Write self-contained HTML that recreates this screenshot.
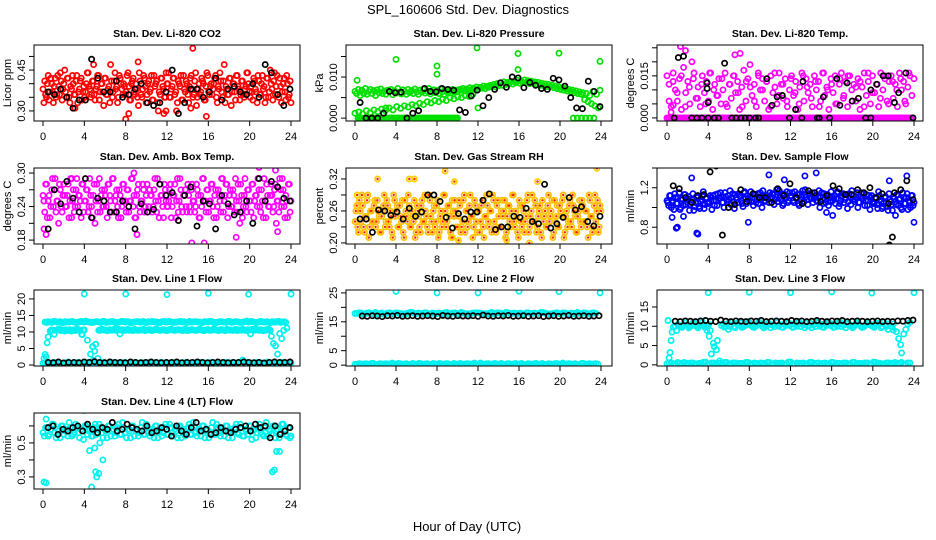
<!DOCTYPE html>
<html><head><meta charset="utf-8"><title>SPL_160606 Std. Dev. Diagnostics</title>
<style>html,body{margin:0;padding:0;background:#fff;}svg{display:block;font-family:"Liberation Sans",Arial,sans-serif;}</style>
</head><body>
<svg id="chart" width="936" height="540" viewBox="0 0 936 540" xmlns="http://www.w3.org/2000/svg">
<rect x="0" y="0" width="936" height="540" fill="#fff"/>
<text x="468" y="14" text-anchor="middle" font-size="13">SPL_160606  Std. Dev. Diagnostics</text>
<text x="467" y="531" text-anchor="middle" font-size="13">Hour of Day (UTC)</text>
<g id="plots"></g>
</svg>
<script>
const hourTicks=[0,4,8,12,16,20,24];
// CO2
const co2Ticks=[0.30,0.35,0.40,0.45,0.50];
const co2Labels=['0.30','','','0.45',''];
const co2Red=[.38,.41,.35,.43,.37,.40,.33,.42,.36,.39,.44,.34,.40,.37,.42,.35,.39,.43,.36,.41,.33,.38,.42,.37,.35,.40,.44,.38,.36,.41,.34,.39,.43,.37,.40,.32,.42,.36,.39,.47,.35,.41,.38,.33,.43,.40,.36,.39,.37,.44,.34,.40,.42,.36,.38,.32,.41,.35,.43,.39,.36,.41,.38,.34,.43,.40,.33,.37,.42,.39,.35,.44,.40,.35,.38,.42,.36,.30,.41,.39,.34,.43,.37,.40,.33,.42,.38,.36,.44,.35,.40,.37,.41,.34,.39,.43,.36,.40,.38,.42,.35,.39,.44,.37,.41,.33,.38,.36,.42,.37,.40,.34,.43,.38,.36,.41,.35,.39,.44,.37,.39,.34,.41,.37,.43,.36,.40,.38,.33,.42,.35,.45,.38,.41,.36,.43,.35,.39,.37,.42,.34,.40,.36,.33];
const co2OutH=[8.0,8.3,14.5,15.8,11.7,3.1,9.2,14.3,4.9,11.9];
const co2OutV=[.27,.29,.53,.28,.29,.31,.48,.31,.47,.30];
const co2Black=[.37,.36,.38,.35,.31,.34,.34,.49,.42,.37,.37,.41,.35,.36,.38,.40,.33,.32,.33,.37,.45,.29,.33,.38,.38,.35,.37,.42,.34,.38,.39,.37,.36,.40,.35,.47,.44,.36,.32,.38];
// Pressure
const prTicks=[0,0.005,0.010,0.015];
const prLabels=['0.000','','0.010',''];
const prMain=[.0065,.006,.007,.0055,.0068,.006,.0072,.0058,.0065,.007,.006,.0067,.0055,.0069,.0062,.0071,.006,.0066,.0058,.0068,.0064,.007,.0057,.0066,.0061,.0072,.0063,.0059,.0069,.0065,.0058,.007,.0062,.0067,.006,.0071,.0064,.0058,.0068,.0063,.007,.0061,.0066,.0072,.0059,.0065,.0069,.0062,.0067,.006,.0071,.0064,.0058,.0069,.0063,.0066,.0061,.007,.0064,.0068,.0065,.007,.0068,.0072,.0066,.0071,.0069,.0074,.0068,.0073,.0071,.0076,.007,.0075,.0073,.0078,.0072,.0077,.0075,.008,.0078,.0082,.0076,.0084,.0079,.0086,.008,.0088,.0082,.0087,.0084,.009,.0083,.0089,.0086,.0092,.0085,.009,.0087,.0093,.0086,.0091,.0084,.009,.0085,.0088,.0082,.0087,.008,.0085,.0079,.0083,.0077,.0082,.0076,.008,.0074,.0078,.0072,.0076,.007,.0074,.0068,.0072,.0066,.007,.0064,.0068,.0062,.0066,.006,.0064,.0058,.0062,.0045,.006,.004,.0055,.0035,.0065,.003,.0058,.0025,.0068];
const prLow=[.0012,.0015,.001,.0018,.0013,.002,.0016,.0022,.0018,.0025,.002,.0028,.0024,.003,.0027,.0033,.003,.0036,.0033,.004,.0037,.0043,.004,.0046,.0043,.005,.0047,.0052,.005,.0055,.0053,.0058];
const prZero=[0,0,0,0,0,0,0,0,0,0,0,0,0,0,0,0,0,0,0,0,0,0,0,0,0,0,0,0,0,0,0,0,0,0,0,0];
const prZero2=[0,0,0,0,0,0];
const prOutH=[4.0,8.0,8.0,11.9,15.9,15.9,19.9,23.9,0.2,3.0,12.0,1.5];
const prOutV=[.0143,.0127,.0107,.0171,.0157,.0118,.0158,.0138,.0092,.0025,.0025,.0012];
const prBlack=[.0038,0,0,0,.0012,.0065,.0062,.0063,0,.0012,.0018,.0072,.0065,.0064,.0072,.007,.0068,.002,.0014,.0054,.0068,.003,.005,.007,.0086,.0075,.0100,.0098,.0074,.0087,.008,.0072,.007,.0097,.0093,.0078,.005,.0025,.0023,.009,.0065,.0028];
// Li-820 Temp
const tpTicks=[0,0.005,0.010,0.015,0.020,0.025];
const tpLabels=['0.000','','','0.015','',''];
const tpMag=[.015,.012,.004,.016,.010,.006,.014,.003,.018,.009,.013,.005,.020,.016,.007,.011,.004,.015,.009,.013,.006,.016,.003,.012,.008,.014,.005,.010,.016,.004,.012,.007,.015,.009,.013,.003,.011,.017,.006,.014,.019,.008,.012,.004,.016,.010,.014,.006,.013,.003,.015,.009,.011,.005,.016,.012,.007,.014,.004,.010,.015,.008,.013,.003,.011,.016,.006,.014,.009,.012,.004,.015,.010,.013,.006,.016,.008,.011,.003,.014,.009,.015,.005,.012,.016,.007,.013,.004,.015,.010,.012,.006,.014,.003,.011,.016,.008,.013,.005,.015,.009,.012,.004,.016,.010,.014,.006,.013,.015,.007,.012,.004,.016,.010,.013,.005,.011,.015,.008,.014];
const tpMag2=[.006,.013,.009,.015,.004,.011,.014,.007,.012,.005,.016,.010,.008,.014,.005,.012,.015,.009,.004,.013,.011,.006,.015,.010,.013,.004,.016,.008,.012,.006,.014,.009,.005,.015,.011,.007,.013,.004,.016,.010,.012,.005,.014,.008,.015,.006,.011,.013,.004,.016,.009,.012,.007,.015,.005,.013,.010,.014,.006,.016];
const tpZero=[0,0,0,0,0,0,0,0,0,0,0,0,0,0,0,0,0,0,0,0,0,0,0,0,0,0,0,0,0,0,0,0,0,0,0,0,0,0,0,0,0,0,0,0,0,0,0,0,0,0,0,0,0,0,0,0,0,0,0,0,0,0,0,0,0,0,0,0,0,0,0,0];
const tpOutH=[1.3,1.8,6.6,7.1,0.4,0.6];
const tpOutV=[.0255,.024,.0225,.023,.002,.0045];
const tpBlackH=[0.7,1.1,1.6,2.4,2.9,3.4,3.9,3.9,4.0,4.0,4.6,5.0,5.6,6.3,6.7,7.2,7.6,8.0,8.6,8.9,9.7,10.2,10.7,11.2,11.9,12.5,13.1,13.2,14.6,14.8,15.2,15.8,16.5,16.8,17.5,18.0,18.6,19.3,19.8,19.8,20.4,21.0,21.5,22.1,22.5,23.2,23.9];
const tpBlackV=[0,.0215,.022,0,0,0,.0105,.0125,.0055,0,0,0,.0195,0,0,0,0,0,0,0,.014,.0045,.0075,.0080,0,.0030,0,.0130,0,0,.0075,0,.0140,.0045,.0125,.0060,.0070,0,0,.0100,.0120,.0150,.0150,.0055,.0090,.0160,0];
// Amb Box Temp
const abTicks=[0.18,0.21,0.24,0.27,0.30];
const abLabels=['0.18','','0.24','','0.30'];
const abMag=[.26,.23,.28,.25,.22,.27,.24,.29,.25,.21,.27,.23,.28,.24,.26,.22,.29,.25,.23,.27,.24,.26,.22,.28,.25,.27,.23,.29,.24,.26,.21,.28,.25,.23,.27,.24,.26,.22,.28,.25,.29,.23,.26,.24,.27,.22,.28,.25,.23,.27,.25,.29,.24,.22,.26,.28,.23,.25,.27,.24,.28,.24,.26,.23,.27,.25,.29,.22,.26,.24,.28,.25,.24,.27,.22,.26,.28,.25,.23,.29,.24,.26,.27,.23,.26,.23,.28,.25,.24,.27,.22,.26,.29,.25,.23,.27,.25,.28,.24,.26,.22,.27,.25,.29,.23,.26,.28,.24,.27,.24,.26,.29,.23,.25,.28,.22,.26,.24,.27,.25,.23,.28,.25,.26,.29,.24,.27,.22,.25,.28,.24,.26,.26,.24,.28,.25,.23,.27,.29,.24,.26,.22,.28,.25];
const abOutH=[0.3,2.8,9.1,14.4,15.6,18.7,20.9,22.5,22.7,0.1,8.8];
const abOutV=[.19,.29,.19,.175,.175,.185,.31,.305,.195,.20,.30];
const abBlack=[.20,.27,.245,.285,.255,.23,.29,.22,.255,.25,.23,.23,.25,.24,.20,.245,.23,.235,.28,.26,.265,.215,.26,.275,.205,.25,.245,.20,.26,.245,.225,.23,.25,.21,.29,.25,.285,.275,.255,.25];
// Gas stream RH
const rhTicks=[0.20,0.23,0.26,0.29,0.32];
const rhLabels=['0.20','','0.26','','0.32'];
const rhMain=[.24,.27,.22,.26,.29,.23,.25,.28,.21,.26,.24,.27,.23,.28,.25,.22,.26,.29,.24,.27,.23,.25,.21,.28,.26,.23,.27,.24,.22,.28,.25,.29,.23,.26,.24,.21,.27,.25,.22,.28,.24,.26,.23,.29,.25,.22,.27,.24,.28,.22,.26,.24,.29,.23,.27,.25,.21,.26,.28,.23,.25,.27,.23,.28,.22,.26,.24,.29,.25,.23,.27,.22,.26,.24,.28,.21,.25,.27,.23,.26,.29,.24,.22,.28,.23,.26,.25,.28,.22,.27,.24,.26,.29,.23,.25,.21,.27,.23,.26,.24,.28,.22,.25,.29,.24,.27,.23,.26,.22,.28,.25,.23,.27,.24,.26,.21,.28,.25,.23,.27,.25,.29,.22,.26,.24,.28,.23,.27,.25,.22,.26,.24,.28,.24,.26,.23,.29,.25,.22,.27,.24,.28,.23,.26];
const rhOutH=[2.2,5.3,5.8,8.8,9.7,17.8,23.6,9.5,14.8,17.0,10.1,0.2];
const rhOutV=[.32,.32,.32,.335,.315,.315,.34,.21,.205,.20,.205,.29];
const rhBlack=[.245,.245,.22,.262,.26,.252,.258,.245,.265,.25,.258,.29,.29,.278,.248,.228,.255,.245,.258,.258,.28,.292,.225,.23,.23,.25,.248,.265,.24,.236,.31,.228,.236,.248,.285,.262,.268,.24,.232,.25];
// Sample flow
const sfTicks=[0.8,1.0,1.2,1.4];
const sfLabels=['0.8','','1.2',''];
const sfBlue=[1.07,1.02,1.12,1.05,0.98,1.10,1.04,1.15,1.00,1.08,1.13,1.03,1.09,0.97,1.06,1.14,1.01,1.11,1.05,0.99,1.08,1.16,1.03,1.10,1.04,1.12,0.98,1.07,1.13,1.02,1.09,1.15,1.05,1.00,1.11,1.06,1.08,1.03,1.14,0.99,1.10,1.05,1.12,1.07,1.01,1.16,1.04,1.09,1.11,1.06,1.02,1.13,1.08,1.04,1.15,1.00,1.10,1.07,1.12,1.05,1.09,1.14,1.03,1.11,1.06,1.17,1.08,1.02,1.13,1.10,1.05,1.15,1.12,1.07,1.16,1.09,1.04,1.14,1.11,1.06,1.18,1.08,1.13,1.10,1.15,1.09,1.12,1.06,1.17,1.11,1.08,1.14,1.05,1.13,1.10,1.16,1.07,1.12,1.09,1.15,1.04,1.11,1.14,1.08,1.13,1.06,1.10,1.17,1.12,1.08,1.15,1.05,1.11,1.09,1.14,1.07,1.02,1.12,1.10,1.06,1.04,1.09,0.99,1.12,1.06,1.01,1.10,1.05,0.97,1.08,1.03,1.11,1.06,1.13,1.02,1.09,0.98,1.10,1.04,1.14,1.07,1.00,1.12,1.05];
const sfOutH=[0.9,1.0,2.9,3.0,1.6,7.9,9.9,11.4,13.4,14.5,15.5,16.1,23.3,2.4,0.5,21.6,22.2,24.0];
const sfOutV=[.79,.80,.74,.73,.91,.85,1.33,1.28,1.32,1.35,.95,.92,1.32,1.30,.90,1.27,0.92,0.85];
const sfBlack=[1.22,1.19,1.10,1.05,1.12,1.13,1.36,1.42,0.72,1.00,1.03,1.18,1.06,1.14,1.10,1.10,1.05,1.19,1.12,1.24,1.10,1.04,1.17,1.15,1.06,1.12,1.22,1.19,1.13,1.13,1.18,1.15,1.20,1.10,1.14,1.04,1.15,1.18,1.27,1.08];
const sfBlackOutH=[21.6,21.9];
const sfBlackOutV=[0.62,0.70];
// Line 1 flow
const l1Ticks=[0,5,10,15,20];
const l1Labels=['0','5','10','15','20'];
const l1Upper=[13.0,13.1,12.9,13.2,13.0,12.8,13.1,13.0,13.2,12.9,13.0,13.1,13.3,13.0,12.9,13.1,13.0,13.2,12.9,13.0,13.1,12.8,13.0,13.2,13.1,12.9,13.0,13.1,13.0,13.2,12.9,13.0,13.1,13.0,12.9,13.2,13.0,13.1,12.9,13.0,13.2,13.1,12.9,13.0,13.1,13.0,12.8,13.1,13.0,13.2,12.9,13.0,13.1,13.0,13.2,12.9,13.1,13.0,12.9,13.1,13.0,13.2,12.9,13.0,13.1,13.0,12.9,13.1,13.0,13.2,13.0,12.9];
const l1MidA=[10.3,10.6,10.5,10.8,10.4,10.6,10.7,10.5,10.3,10.6,10.8,10.5,9.3,10.6];
const l1MidB=[10.5,10.8,10.6,10.4,10.7,10.5,10.9,10.6,9.4,10.7,10.5,10.8,10.6,10.4,10.7,10.5,10.6,10.8,10.5,10.7,10.4,10.6,10.9,10.5,10.7,10.6,10.4,10.8,10.6,10.5,10.7,10.6,10.4,10.8,10.5,10.7,10.6,10.5,10.8,10.6,10.4,10.7,10.5,10.6,10.8,10.5,10.7,10.6,10.4,10.7,10.6,10.5,10.8,10.6,10.5,10.7,10.4,10.6,10.8,10.5,10.7,10.6,10.4,10.6,10.8,10.5];
const l1Low=[0.5,0.7,0.4,0.8,0.5,0.6,0.9,0.4,0.7,0.5,0.6,0.8,1.5,0.5,0.7,0.4,0.8,0.6,0.5,0.7,0.4,0.6,0.8,0.5,0.7,0.4,0.6,0.5,0.8,0.6,0.4,0.7,0.5,0.6,0.8,0.4,0.7,0.5,0.6,0.5,0.8,0.4,0.6,0.7,0.5,0.8,0.4,0.6,0.5,0.7,0.4,0.8,0.6,0.5,0.7,0.4,0.6,0.8,0.5,0.6];
const l1Black=[0.8,0.7,0.9,0.6,0.8,0.8,0.7,0.9,0.8,1.0,0.8,0.7,0.9,0.8,0.8,0.7,0.9,0.8,0.7,0.8,0.9,0.8,0.7,0.8,0.8,0.9,0.7,0.8,0.8,0.9,0.8,0.7,0.8,0.9,0.8,0.7,0.8,0.8,0.9,0.8,0.7,0.8,0.6,0.8,0.9,0.8,0.8,0.9];
const l1TrH=[0.1,0.2,0.3,0.4,0.5,4.3,4.6,4.8,5.0,5.1,5.3,22.1,22.3,22.5,22.7,22.9,23.1,23.3,23.6,3.8];
const l1TrV=[2.0,3.2,2.5,6.7,8.5,7.5,3.3,5.6,4.2,6.3,2.0,8.7,6.5,5.8,3.3,9.5,8.0,10.5,11.2,9.2];
const l1OutH=[4.0,8.0,12.0,16.0,19.9,24.0];
const l1OutV=[21.5,21.5,21.3,21.7,21.4,21.5];
// Line 2 flow
const l2Ticks=[0,5,10,15,20,25];
const l2Labels=['0','5','','15','','25'];
const l2Upper=[17.9,18.1,17.7,18.0,17.8,18.2,17.9,17.6,18.0,17.8,18.1,17.9,17.7,18.0,18.2,17.8,17.9,18.1,17.7,18.0,17.8,17.9,18.1,17.6,18.0,17.9,18.2,17.8,17.7,18.0,18.1,17.9,17.8,18.0,17.7,18.1,17.9,18.2,17.8,18.0,17.9,17.7,18.1,17.8,18.0,17.9,18.2,17.8,17.7,18.0,17.9,18.1,17.8,18.0,17.7,17.9,18.1,17.8,18.0,17.9];
const l2Black=[17.0,16.9,17.1,17.0,16.8,17.1,17.0,17.2,16.9,17.0,17.1,16.9,17.0,17.1,17.0,16.8,17.2,17.0,16.9,17.1,17.0,17.0,17.1,16.9,17.3,17.0,16.9,17.1,17.0,17.2,16.9,17.0,17.1,16.9,17.0,17.1,16.8,17.0,17.1,16.9,17.0,17.2,16.9,17.0,17.1,16.9,17.0,17.1];
const l2Low=[0.3,0.5,0.2,0.4,0.6,0.3,0.5,0.2,0.4,0.7,0.3,0.5,0.4,0.2,0.6,0.3,0.5,0.4,0.2,0.6,0.3,0.4,0.5,0.2,0.6,0.3,0.4,0.5,0.3,0.7,0.2,0.4,0.5,0.3,0.6,0.4,0.2,0.5,0.3,0.6,0.4,0.2,0.5,0.3,0.6,0.4,0.3,0.5,0.2,0.6,0.4,0.3,0.5,0.4,0.2,0.6,0.3,0.5,0.4,0.3];
const l2OutH=[4.0,8.0,12.0,16.0,19.9,23.9];
const l2OutV=[25.5,25.0,25.0,25.6,25.4,25.0];
// Line 3 flow
const l3Ticks=[0,5,10,15];
const l3Labels=['0','5','10','15'];
const l3BandA=[10.0,10.5,9.8,10.3,11.0,9.6,10.2,10.8,9.9,10.4,11.2,9.7,10.1,8.9];
const l3BandB=[10.2,9.8,10.6,10.0,11.1,9.6,10.4,10.9,9.9,10.3,11.2,10.1,9.7,10.5,11.0,9.9,10.2,10.8,9.6,10.4,11.1,10.0,9.8,10.6,10.9,10.2,9.7,10.5,11.0,9.9,10.3,10.8,10.1,9.6,10.5,11.1,10.0,9.8,10.6,10.9,10.2,9.7,10.4,11.0,9.9,10.3,10.7,10.1,9.6,10.5,11.0,10.0,9.8,10.6,10.9,10.2,9.7,10.4,10.8,9.9,10.3,9.2,10.1,10.6];
const l3Black=[11.3,11.2,11.4,11.3,11.2,11.4,11.5,11.3,11.2,11.6,11.3,11.2,11.4,11.3,11.2,11.4,11.3,11.5,11.2,11.3,11.4,11.3,11.2,11.5,11.3,11.4,11.2,11.3,11.5,11.3,11.2,11.4,11.3,11.5,11.2,11.3,11.4,11.3,11.2,11.3,11.4,11.2,11.3,11.2,11.4,11.3,11.5,11.6];
const l3Low=[0.3,0.5,0.2,0.4,0.6,0.3,0.5,0.2,0.4,0.7,0.3,0.5,0.4,0.2,0.6,0.3,0.5,0.4,0.2,0.6,0.3,0.4,0.5,0.2,0.6,0.3,0.4,0.5,0.3,0.7,0.2,0.4,0.5,0.3,0.6,0.4,0.2,0.5,0.3,0.6,0.4,0.2,0.5,0.3,0.6,0.4,0.3,0.5,0.2,0.6,0.4,0.3,0.5,0.4,0.2,0.6,0.3,0.5];
const l3TrH=[0.1,0.2,0.3,0.4,0.5,0.6,4.1,4.3,4.5,4.6,4.8,4.9,5.1,22.0,22.3,22.5,22.7,22.8,23.0,23.2,23.4,23.6,3.9];
const l3TrV=[11.5,1.8,3.2,6.3,8.5,9.8,7.4,2.8,5.6,4.7,3.9,6.3,1.0,9.0,8.6,6.8,5.2,3.1,8.0,9.2,10.5,11.0,8.9];
const l3OutH=[4.0,8.0,12.0,16.0,19.9,24.0];
const l3OutV=[18.7,18.8,18.7,18.9,18.6,18.7];
// Line 4 flow
const l4Ticks=[0.3,0.4,0.5,0.6];
const l4Labels=['0.3','','0.5',''];
const l4Cyan=[.56,.59,.54,.58,.61,.53,.57,.60,.55,.58,.62,.54,.56,.59,.53,.57,.60,.55,.58,.54,.61,.56,.59,.53,.57,.60,.54,.58,.56,.61,.55,.59,.53,.57,.60,.54,.58,.56,.62,.55,.59,.54,.57,.60,.53,.58,.56,.61,.55,.59,.54,.57,.60,.53,.58,.56,.61,.55,.59,.54,.57,.60,.53,.58,.56,.62,.55,.59,.54,.57,.60,.53,.58,.56,.61,.55,.59,.54,.57,.60,.52,.58,.56,.61,.55,.59,.54,.57,.60,.53,.58,.56,.61,.55,.59,.54];
const l4Black=[.59,.60,.55,.58,.57,.59,.60,.57,.61,.58,.56,.59,.58,.62,.57,.58,.61,.59,.58,.57,.60,.56,.57,.59,.58,.54,.60,.57,.55,.59,.62,.57,.58,.55,.56,.59,.57,.56,.58,.59,.60,.57,.61,.59,.60,.53,.60,.55,.57,.59];
const l4OutH=[0.1,0.3,4.0,4.5,4.7,5.0,5.1,5.2,5.4,5.5,5.8,22.2,22.4,22.6,22.9,0.3,23.9];
const l4OutV=[.27,.265,.69,.455,.24,.47,.33,.30,.32,.50,.40,.33,.34,.45,.45,.64,.53];

const colsX=[{l:34,r:300,x0:43,x24:291},{l:346,r:612,x0:355,x24:601},{l:657,r:923,x0:667,x24:914}];
const rowsY=[{t:45,b:121},{t:168,b:244},{t:290,b:366},{t:413,b:489}];
const CY='#00f0f0';
const panels=[
 {name:'co2',title:'Stan. Dev. Li-820 CO2',ylab:'Licor ppm',c:0,r:0,ymin:0.263,ymax:0.542,ticks:co2Ticks,labels:co2Labels,series:[
   {col:'#ff0000',t0:0,t1:24,v:co2Red,dup:true},{col:'#ff0000',h:co2OutH,v:co2OutV},{col:'#000',t0:0.5,t1:23.9,v:co2Black}]},
 {name:'pressure',title:'Stan. Dev. Li-820 Pressure',ylab:'kPa',c:1,r:0,ymin:-0.0007,ymax:0.0178,ticks:prTicks,labels:prLabels,series:[
   {col:'#00e000',t0:0,t1:23.9,v:prMain},{col:'#00e000',t0:0,t1:11.5,v:prLow},{col:'#00e000',t0:0.3,t1:10,v:prZero,dup:true},{col:'#00e000',t0:21.3,t1:23.3,v:prZero2},{col:'#00e000',h:prOutH,v:prOutV},{col:'#000',t0:0.5,t1:23.9,v:prBlack}]},
 {name:'li820-temp',title:'Stan. Dev. Li-820 Temp.',ylab:'degrees C',c:2,r:0,ymin:-0.0011,ymax:0.026,ticks:tpTicks,labels:tpLabels,series:[
   {col:'#ff00ff',t0:0,t1:24,v:tpMag},{col:'#ff00ff',t0:0.2,t1:23.5,v:tpMag2},{col:'#ff00ff',t0:0,t1:23.9,v:tpZero,dup:true},{col:'#ff00ff',h:tpOutH,v:tpOutV},{col:'#000',h:tpBlackH,v:tpBlackV}]},
 {name:'amb-box-temp',title:'Stan. Dev. Amb. Box Temp.',ylab:'degrees C',c:0,r:1,ymin:0.173,ymax:0.309,ticks:abTicks,labels:abLabels,series:[
   {col:'#ff00ff',t0:0,t1:24,v:abMag,dup:true},{col:'#ff00ff',h:abOutH,v:abOutV},{col:'#000',t0:0.5,t1:23.9,v:abBlack}]},
 {name:'gas-rh',title:'Stan. Dev. Gas Stream RH',ylab:'percent',c:1,r:1,ymin:0.198,ymax:0.3406,ticks:rhTicks,labels:rhLabels,series:[
   {col:'#ffc000',dot:'#ff2000',t0:0,t1:24,v:rhMain,dup:true},{col:'#ffd000',dot:'#ff2000',h:rhOutH,v:rhOutV},{col:'#000',t0:0.5,t1:23.9,v:rhBlack}]},
 {name:'sample-flow',title:'Stan. Dev. Sample Flow',ylab:'ml/min',c:2,r:1,ymin:0.63,ymax:1.4,ticks:sfTicks,labels:sfLabels,series:[
   {col:'#0000ff',t0:0,t1:24,v:sfBlue,dup:true},{col:'#0000ff',h:sfOutH,v:sfOutV},{col:'#000',t0:0.6,t1:23.9,v:sfBlack},{col:'#000',h:sfBlackOutH,v:sfBlackOutV}]},
 {name:'line1-flow',title:'Stan. Dev. Line 1 Flow',ylab:'ml/min',c:0,r:2,ymin:-0.3,ymax:22.7,ticks:l1Ticks,labels:l1Labels,series:[
   {col:CY,t0:0.2,t1:23.5,v:l1Upper,dup:true},{col:CY,t0:0.7,t1:4.0,v:l1MidA,dup:true},{col:CY,t0:5.4,t1:22.0,v:l1MidB,dup:true},{col:CY,t0:0,t1:24,v:l1Low,dup:true},{col:CY,h:l1TrH,v:l1TrV},{col:CY,h:l1OutH,v:l1OutV},{col:'#000',t0:0.5,t1:23.9,v:l1Black}]},
 {name:'line2-flow',title:'Stan. Dev. Line 2 Flow',ylab:'ml/min',c:1,r:2,ymin:-0.3,ymax:26,ticks:l2Ticks,labels:l2Labels,series:[
   {col:CY,t0:0,t1:23.5,v:l2Upper,dup:true},{col:CY,t0:0,t1:23.7,v:l2Low,dup:true},{col:CY,h:l2OutH,v:l2OutV},{col:'#000',t0:0.7,t1:23.8,v:l2Black}]},
 {name:'line3-flow',title:'Stan. Dev. Line 3 Flow',ylab:'ml/min',c:2,r:2,ymin:-0.3,ymax:19.4,ticks:l3Ticks,labels:l3Labels,series:[
   {col:CY,t0:0.8,t1:4.2,v:l3BandA,dup:true},{col:CY,t0:5.3,t1:22.0,v:l3BandB,dup:true},{col:CY,t0:0,t1:23.6,v:l3Low,dup:true},{col:CY,h:l3TrH,v:l3TrV},{col:CY,h:l3OutH,v:l3OutV},{col:'#000',t0:0.8,t1:23.9,v:l3Black}]},
 {name:'line4-flow',title:'Stan. Dev. Line 4 (LT) Flow',ylab:'ml/min',c:0,r:3,ymin:0.229,ymax:0.676,ticks:l4Ticks,labels:l4Labels,series:[
   {col:CY,t0:0,t1:24,v:l4Cyan,dup:true},{col:CY,h:l4OutH,v:l4OutV},{col:'#000',t0:0.5,t1:23.9,v:l4Black}]}
];
const NS='http://www.w3.org/2000/svg';
const root=document.getElementById('plots');
function mk(tag,attrs,parent){const e=document.createElementNS(NS,tag);for(const k in attrs)e.setAttribute(k,attrs[k]);parent.appendChild(e);return e;}
panels.forEach(p=>{
  const cx=colsX[p.c], ry=rowsY[p.r];
  const xs=h=>cx.x0+h/24*(cx.x24-cx.x0);
  const ys=v=>ry.b-(v-p.ymin)/(p.ymax-p.ymin)*(ry.b-ry.t);
  const g=mk('g',{},root);
  
  
  const clip=mk('clipPath',{id:'clip-'+p.name},g);
  mk('rect',{x:cx.l,y:ry.t,width:cx.r-cx.l,height:ry.b-ry.t},clip);
  const t=mk('text',{x:(cx.l+cx.r)/2,y:ry.t-8,'text-anchor':'middle','font-size':'10.5','font-weight':'bold'},g);
  t.textContent=p.title;
  
  
  const yl=mk('text',{transform:`translate(${cx.l-23},${(ry.t+ry.b)/2}) rotate(-90)`,'text-anchor':'middle','font-size':'11'},g);
  yl.textContent=p.ylab;
  
  
  const pts=mk('g',{'clip-path':`url(#clip-${p.name})`,fill:'none','stroke-width':'1.7'},g);
  
  
  function drawPt(h,v,s){
    const c=mk('circle',{cx:xs(h).toFixed(1),cy:ys(v).toFixed(1),r:2.6,stroke:s.col},pts);
    
    
    if(s.dot){const d=mk('circle',{cx:xs(h).toFixed(1),cy:ys(v).toFixed(1),r:1.2,fill:s.dot,stroke:'none'},pts);
      
      }
  }
  p.series.forEach(s=>{
    const n=s.v.length;
    s.v.forEach((v,i)=>{
      const h=s.h?s.h[i]:(n>1?s.t0+(s.t1-s.t0)*i/(n-1):s.t0);
      drawPt(h,v,s);
      if(s.dup && !s.h && n>1 && i<n-1){
        const h2=h+(s.t1-s.t0)/(n-1)/2;
        drawPt(h2,s.v[n-1-i],s);
      }
    });
  });
  const box=mk('rect',{x:cx.l,y:ry.t,width:cx.r-cx.l,height:ry.b-ry.t,fill:'none',stroke:'#000','stroke-width':'1'},g);
  
  
  const xa=mk('g',{},g);
  
  
  mk('line',{x1:xs(0),x2:xs(24),y1:ry.b,y2:ry.b,stroke:'#000'},xa);
  hourTicks.forEach(h=>{
    mk('line',{x1:xs(h),x2:xs(h),y1:ry.b,y2:ry.b+5,stroke:'#000'},xa);
    const tl=mk('text',{x:xs(h),y:ry.b+19,'text-anchor':'middle','font-size':'11'},xa);
    tl.textContent=String(h);
    
    
  });
  const ya=mk('g',{},g);
  
  
  p.ticks.forEach((v,i)=>{
    const y=ys(v);
    mk('line',{x1:cx.l-5,x2:cx.l,y1:y,y2:y,stroke:'#000'},ya);
    if(p.labels[i]){
      const tl=mk('text',{transform:`translate(${cx.l-9},${y}) rotate(-90)`,'text-anchor':'middle','font-size':'11'},ya);
      tl.textContent=p.labels[i];
      
      
    }
  });
});
</script>
</body></html>
